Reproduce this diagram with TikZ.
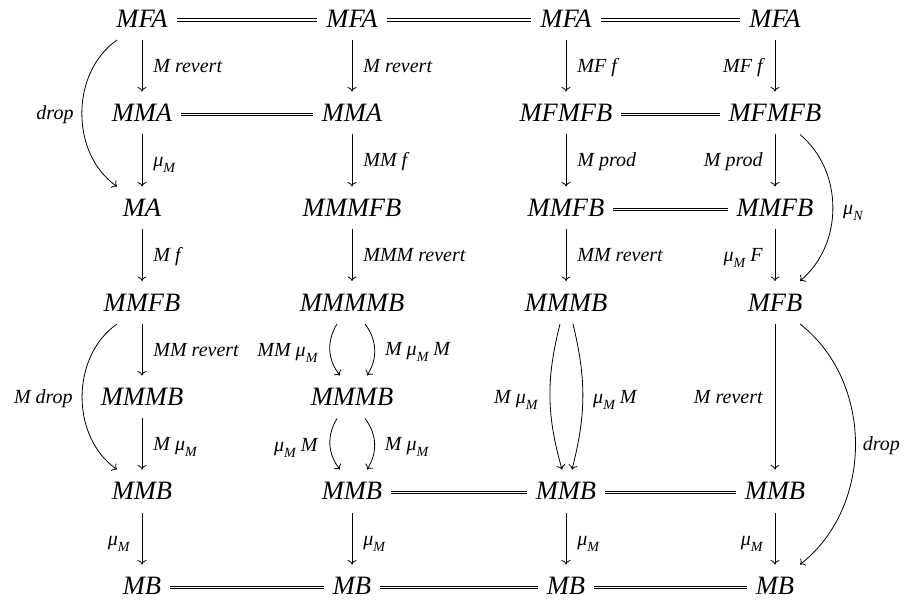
\documentclass[tikz,border=0pt]{standalone}
\usepackage{fontspec}
\setmainfont{Liberation Serif}
\usetikzlibrary{arrows.meta}
\newcommand\mysub[1]{\raisebox{-0.3em}{\fontsize{14}{14}\selectfont #1}}
\newcommand\muM{μ\mysub{M}}
\newcommand\muN{μ\mysub{N}}
\begin{document}
\begin{tikzpicture}[x=1pt,y=-1pt,
  obj/.style={font=\fontsize{26.5}{30}\selectfont\itshape, inner xsep=9pt, inner ysep=0pt, outer sep=0pt, text height=17.5pt, text depth=0pt, minimum height=43pt},
  arr/.style={draw, line width=0.8pt, -{Computer Modern Rightarrow[length=4.5pt,width=9pt]}},
  eq/.style={draw, line width=0.7pt, double, double distance=1.8pt, transform canvas={yshift=-1.5pt}},
  lab/.style={font=\fontsize{20}{22}\selectfont\itshape, inner sep=0pt, text height=13pt, text depth=0pt},
  lr/.style={lab, anchor=west, xshift=11pt},
  ll/.style={lab, anchor=east, xshift=-12pt}]
\useasboundingbox (0,0) rectangle (905,601);
% row 1
\node[obj] (A1) at (142,18.5) {MFA};
\node[obj] (A2) at (352,18.5) {MFA};
\node[obj] (A3) at (566,18.5) {MFA};
\node[obj] (A4) at (775,18.5) {MFA};
% row 2
\node[obj] (B1) at (142,113) {MMA};
\node[obj] (B2) at (352,113) {MMA};
\node[obj] (B3) at (566,113) {MFMFB};
\node[obj] (B4) at (775,113) {MFMFB};
% row 3
\node[obj] (C1) at (142,208) {MA};
\node[obj] (C2) at (352,208) {MMMFB};
\node[obj] (C3) at (566,208) {MMFB};
\node[obj] (C4) at (775,208) {MMFB};
% row 4
\node[obj] (D1) at (142,302.5) {MMFB};
\node[obj] (D2) at (352,302.5) {MMMMB};
\node[obj] (D3) at (566,302.5) {MMMB};
\node[obj] (D4) at (775,302.5) {MFB};
% row 5
\node[obj] (E1) at (142,397) {MMMB};
\node[obj] (E2) at (352,397) {MMMB};
% row 6
\node[obj] (F1) at (142,491) {MMB};
\node[obj] (F2) at (352,491) {MMB};
\node[obj] (F3) at (566,491) {MMB};
\node[obj] (F4) at (775,491) {MMB};
% row 7
\node[obj] (G1) at (142,586) {MB};
\node[obj] (G2) at (352,586) {MB};
\node[obj] (G3) at (566,586) {MB};
\node[obj] (G4) at (775,586) {MB};
% equalities
\draw[eq] (A1) -- (A2);
\draw[eq] (A2) -- (A3);
\draw[eq] (A3) -- (A4);
\draw[eq] (B1) -- (B2);
\draw[eq] (B3) -- (B4);
\draw[eq] (C3) -- (C4);
\draw[eq] (F2) -- (F3);
\draw[eq] (F3) -- (F4);
\draw[eq] (G1) -- (G2);
\draw[eq] (G2) -- (G3);
\draw[eq] (G3) -- (G4);
% column 1
\draw[arr] (A1) -- node[lr]{M revert} (B1);
\draw[arr] (B1) -- node[lr]{\muM} (C1);
\draw[arr] (C1) -- node[lr]{M f} (D1);
\draw[arr] (D1) -- node[lr]{MM revert} (E1);
\draw[arr] (E1) -- node[lr]{M \muM} (F1);
\draw[arr] (F1) -- node[ll]{\muM} (G1);
% column 2
\draw[arr] (A2) -- node[lr]{M revert} (B2);
\draw[arr] (B2) -- node[lr]{MM f} (C2);
\draw[arr] (C2) -- node[lr]{MMM revert} (D2);
\draw[arr] ([xshift=-15pt]D2.south) to[bend right=35] node[ll]{MM \muM} ([xshift=-12pt]E2.north);
\draw[arr] ([xshift=13pt]D2.south) to[bend left=35] node[lr,xshift=-1pt]{M \muM{} M} ([xshift=15pt]E2.north);
\draw[arr] ([xshift=-15pt]E2.south) to[bend right=35] node[ll]{\muM{} M} ([xshift=-12pt]F2.north);
\draw[arr] ([xshift=13pt]E2.south) to[bend left=35] node[lr,xshift=-1pt]{M \muM} ([xshift=15pt]F2.north);
\draw[arr] (F2) -- node[lr]{\muM} (G2);
% column 3
\draw[arr] (A3) -- node[lr]{MF f} (B3);
\draw[arr] (B3) -- node[lr]{M prod} (C3);
\draw[arr] (C3) -- node[lr]{MM revert} (D3);
\draw[arr] ([xshift=-6pt]D3.south) to[bend right=15] node[ll]{M \muM} ([xshift=-4pt]F3.north);
\draw[arr] ([xshift=7pt]D3.south) to[bend left=14] node[lr,xshift=-1pt]{\muM{} M} ([xshift=6pt]F3.north);
\draw[arr] (F3) -- node[lr]{\muM} (G3);
% column 4
\draw[arr] (A4) -- node[ll]{MF f} (B4);
\draw[arr] (B4) -- node[ll]{M prod} (C4);
\draw[arr] (C4) -- node[ll]{\muM{} F} (D4);
\draw[arr] (D4) -- node[ll]{M revert} (F4);
\draw[arr] (F4) -- node[ll]{\muM} (G4);
% curved
\draw[arr] ([xshift=-25pt]A1.south) to[bend right=55] node[ll,xshift=4pt]{drop} ([xshift=-25pt]C1.north);
\draw[arr] ([xshift=-25pt]D1.south) to[bend right=55] node[ll,xshift=3pt]{M drop} ([xshift=-25pt]F1.north);
\draw[arr] ([xshift=25pt]B4.south) to[bend left=50] node[lr,xshift=-1pt]{\muN} ([xshift=25pt]D4.north);
\draw[arr] ([xshift=25pt]D4.south) to[bend left=52] node[lr,xshift=-4pt]{drop} ([xshift=25pt]G4.north);
\end{tikzpicture}
\end{document}
